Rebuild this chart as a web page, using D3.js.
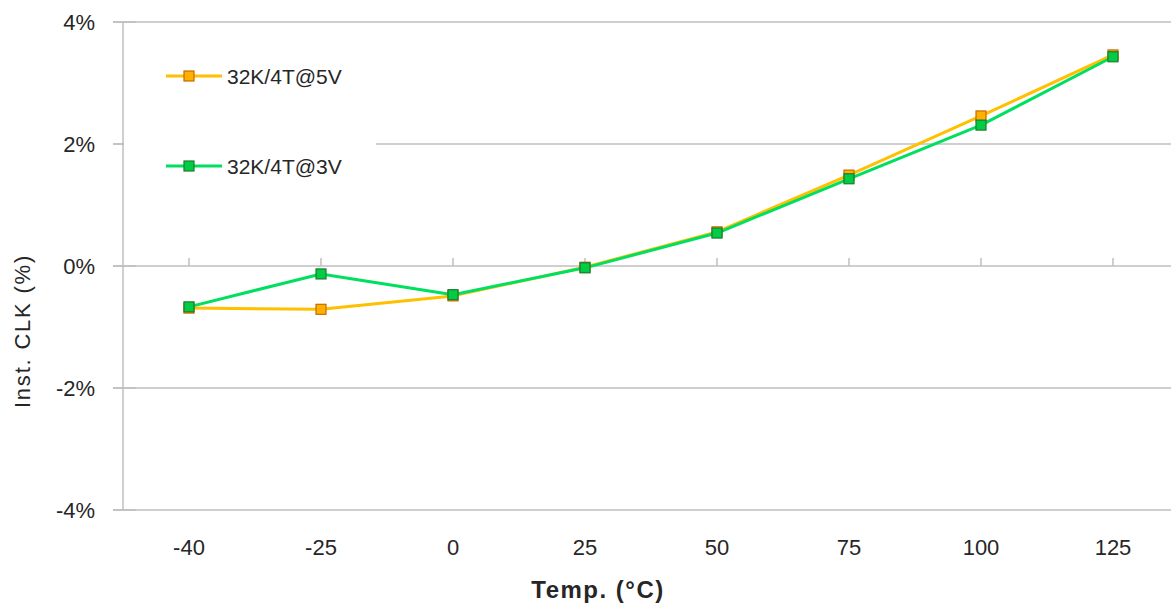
<!DOCTYPE html>
<html>
<head>
<meta charset="utf-8">
<script src="https://cdn.jsdelivr.net/npm/d3@7"></script>
<style>
  html, body { margin: 0; padding: 0; background: #fff; }
  svg { display: block; }
  text { font-family: "Liberation Sans", Arial, sans-serif; fill: #262626; }
</style>
</head>
<body>
<svg id="chart" width="1171" height="605"></svg>
<script>
const categories = ["-40", "-25", "0", "25", "50", "75", "100", "125"];
const series5V = [-0.69, -0.71, -0.49, -0.02, 0.56, 1.49, 2.46, 3.46];
const series3V = [-0.67, -0.13, -0.47, -0.03, 0.54, 1.43, 2.31, 3.43];
const yTicks = [-4, -2, 0, 2, 4];
const seriesNames = ["32K/4T@5V", "32K/4T@3V"];

(function () {
const svg = d3.select("#chart");
const W = 1171;
const mLeft = 123, mRight = 1179, mTop = 22, mBottom = 510;

const x = d3.scaleBand().domain(categories).range([mLeft, mRight]).padding(0);
const y = d3.scaleLinear().domain([-4, 4]).range([mBottom, mTop]);
const cx = c => x(c) + x.bandwidth() / 2;

const grid = "#BFBFBF";

// horizontal gridlines
svg.append("g").selectAll("line").data(yTicks).join("line")
  .attr("x1", mLeft - 10).attr("x2", W)
  .attr("y1", d => y(d)).attr("y2", d => y(d))
  .attr("stroke", grid).attr("stroke-width", 1.5);

// y axis line
svg.append("line").attr("x1", mLeft).attr("x2", mLeft)
  .attr("y1", y(4)).attr("y2", y(-4))
  .attr("stroke", grid).attr("stroke-width", 1.5);

// cross ticks on y axis
svg.append("g").selectAll("line").data(yTicks).join("line")
  .attr("x1", mLeft - 10).attr("x2", mLeft + 13)
  .attr("y1", d => y(d)).attr("y2", d => y(d))
  .attr("stroke", grid).attr("stroke-width", 1.5);

// x-axis tick marks on 0% line (upward)
svg.append("g").selectAll("line").data(categories).join("line")
  .attr("x1", d => cx(d)).attr("x2", d => cx(d))
  .attr("y1", y(0)).attr("y2", y(0) - 8)
  .attr("stroke", grid).attr("stroke-width", 1.5);

// y tick labels
svg.append("g").selectAll("text").data(yTicks).join("text")
  .attr("x", 95).attr("y", d => y(d))
  .attr("dy", "0.36em").attr("text-anchor", "end")
  .attr("font-size", 22)
  .text(d => d + "%");

// x tick labels
svg.append("g").selectAll("text").data(categories).join("text")
  .attr("x", d => cx(d)).attr("y", 547)
  .attr("dy", "0.36em").attr("text-anchor", "middle")
  .attr("font-size", 22)
  .text(d => d);

// axis titles
svg.append("text").attr("x", 598).attr("y", 589).attr("dy", "0.36em")
  .attr("text-anchor", "middle").attr("font-size", 24).attr("font-weight", "bold")
  .attr("letter-spacing", 1.5)
  .text("Temp. (°C)");
svg.append("text")
  .attr("transform", "translate(22,331) rotate(-90)")
  .attr("dy", "0.36em").attr("text-anchor", "middle").attr("font-size", 22)
  .attr("letter-spacing", 1.8)
  .text("Inst. CLK (%)");

// legend background (hides gridline)
svg.append("rect").attr("x", mLeft + 1).attr("y", 32).attr("width", 252).attr("height", 170)
  .attr("fill", "#fff");

const styles = [
  { line: "#FFC000", fill: "#FFB000", stroke: "#C86A00", data: series5V },
  { line: "#00E060", fill: "#00CC44", stroke: "#1E7A2E", data: series3V }
];

const line = d3.line().x((d, i) => cx(categories[i])).y(d => y(d));

styles.forEach(s => {
  svg.append("path").datum(s.data).attr("d", line)
    .attr("fill", "none").attr("stroke", s.line).attr("stroke-width", 3)
    .attr("stroke-linejoin", "round");
});
styles.forEach(s => {
  svg.append("g").selectAll("rect").data(s.data).join("rect")
    .attr("x", (d, i) => cx(categories[i]) - 5).attr("y", d => y(d) - 5)
    .attr("width", 10).attr("height", 10)
    .attr("fill", s.fill).attr("stroke", s.stroke).attr("stroke-width", 1.2);
});

// legend
const legendY = [76, 166];
styles.forEach((s, i) => {
  const g = svg.append("g");
  g.append("line").attr("x1", 166).attr("x2", 222).attr("y1", legendY[i]).attr("y2", legendY[i])
    .attr("stroke", s.line).attr("stroke-width", 3);
  g.append("rect").attr("x", 189 - 5).attr("y", legendY[i] - 5).attr("width", 10).attr("height", 10)
    .attr("fill", s.fill).attr("stroke", s.stroke).attr("stroke-width", 1.2);
  g.append("text").attr("x", 227).attr("y", legendY[i]).attr("dy", "0.36em")
    .attr("font-size", 21).text(seriesNames[i]);
});
})();
</script>
</body>
</html>
